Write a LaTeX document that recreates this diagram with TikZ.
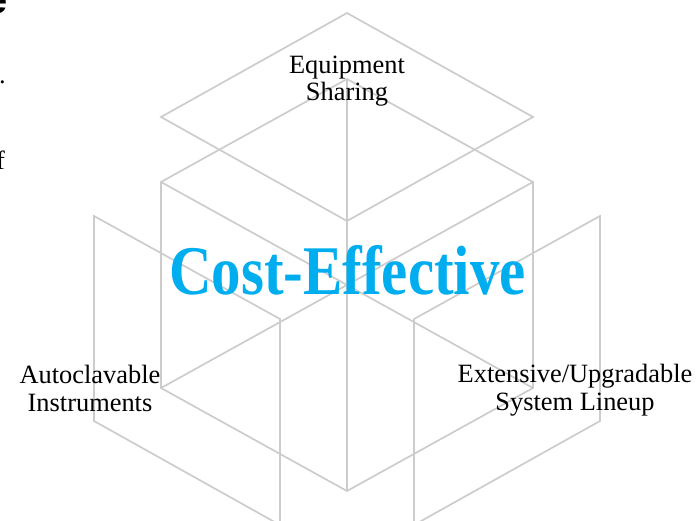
\documentclass[tikz,border=0pt]{standalone}
\usepackage{fontspec}
\setmainfont{Liberation Serif}
\newfontfamily\fragsans{Liberation Sans}
\definecolor{linegray}{RGB}{204,204,204}
\definecolor{costcyan}{RGB}{0,174,239}
\begin{document}
\begin{tikzpicture}[x=1bp,y=-1bp,
  edge/.style={draw=linegray,line width=1.7bp,line join=miter},
  lbl/.style={font=\fontsize{26.5}{28}\selectfont,align=center,inner sep=0pt,anchor=base,text=black},
  frag/.style={inner sep=0pt,anchor=base east,text=black},
  ]
\useasboundingbox (0,0) rectangle (700,521);
\clip (0,0) rectangle (700,521);
% top rhombus
\coordinate (T1) at (347,13);
\coordinate (T2) at (161,117);
\coordinate (T3) at (347,221);
\coordinate (T4) at (533,117);
% central hexagon
\coordinate (H1) at (347,79);
\coordinate (H2) at (533,182);
\coordinate (H3) at (533,388);
\coordinate (H4) at (347,491);
\coordinate (H5) at (161,388);
\coordinate (H6) at (161,182);
% left face
\coordinate (L1) at (94,216);
\coordinate (L2) at (280,319);
\coordinate (L3) at (280,525);
\coordinate (L4) at (94,421);
% right face
\coordinate (R1) at (600,216);
\coordinate (R2) at (414,319);
\coordinate (R3) at (414,525);
\coordinate (R4) at (600,421);

\draw[edge] (T1) -- (T2) -- (T3) -- (T4) -- cycle;
\draw[edge] (H1) -- (H2) -- (H3) -- (H4) -- (H5) -- (H6) -- cycle;
\draw[edge] (H1) -- (H4);
\draw[edge] (H2) -- (H5);
\draw[edge] (H3) -- (H6);
\draw[edge] (L1) -- (L2) -- (L3) -- (L4) -- cycle;
\draw[edge] (R1) -- (R2) -- (R3) -- (R4) -- cycle;

% fragments of text cut by the left border
\node[frag,font=\fragsans\bfseries\fontsize{40}{40}\selectfont] (fragA) at (8,14) {e};
\node[frag,font=\fontsize{26.5}{28}\selectfont] (fragB) at (6,84) {.};
\node[frag,font=\fontsize{26.5}{28}\selectfont] (fragC) at (5,170) {f};

% labels (anchor base = baseline of the last line)
\node[lbl] (share) at (347,101) {Equipment\\Sharing};
\node[lbl] (auto) at (90,411) {Autoclavable\\Instruments};
\node[lbl] (lineup) at (575,410) {Extensive/Upgradable\\System Lineup};
\node[inner sep=0pt,anchor=base,text=costcyan,font=\bfseries\fontsize{70}{70}\selectfont] (cost) at (347.5,294) {\scalebox{0.845}[1]{Cost-Effective}};
\end{tikzpicture}
\end{document}
